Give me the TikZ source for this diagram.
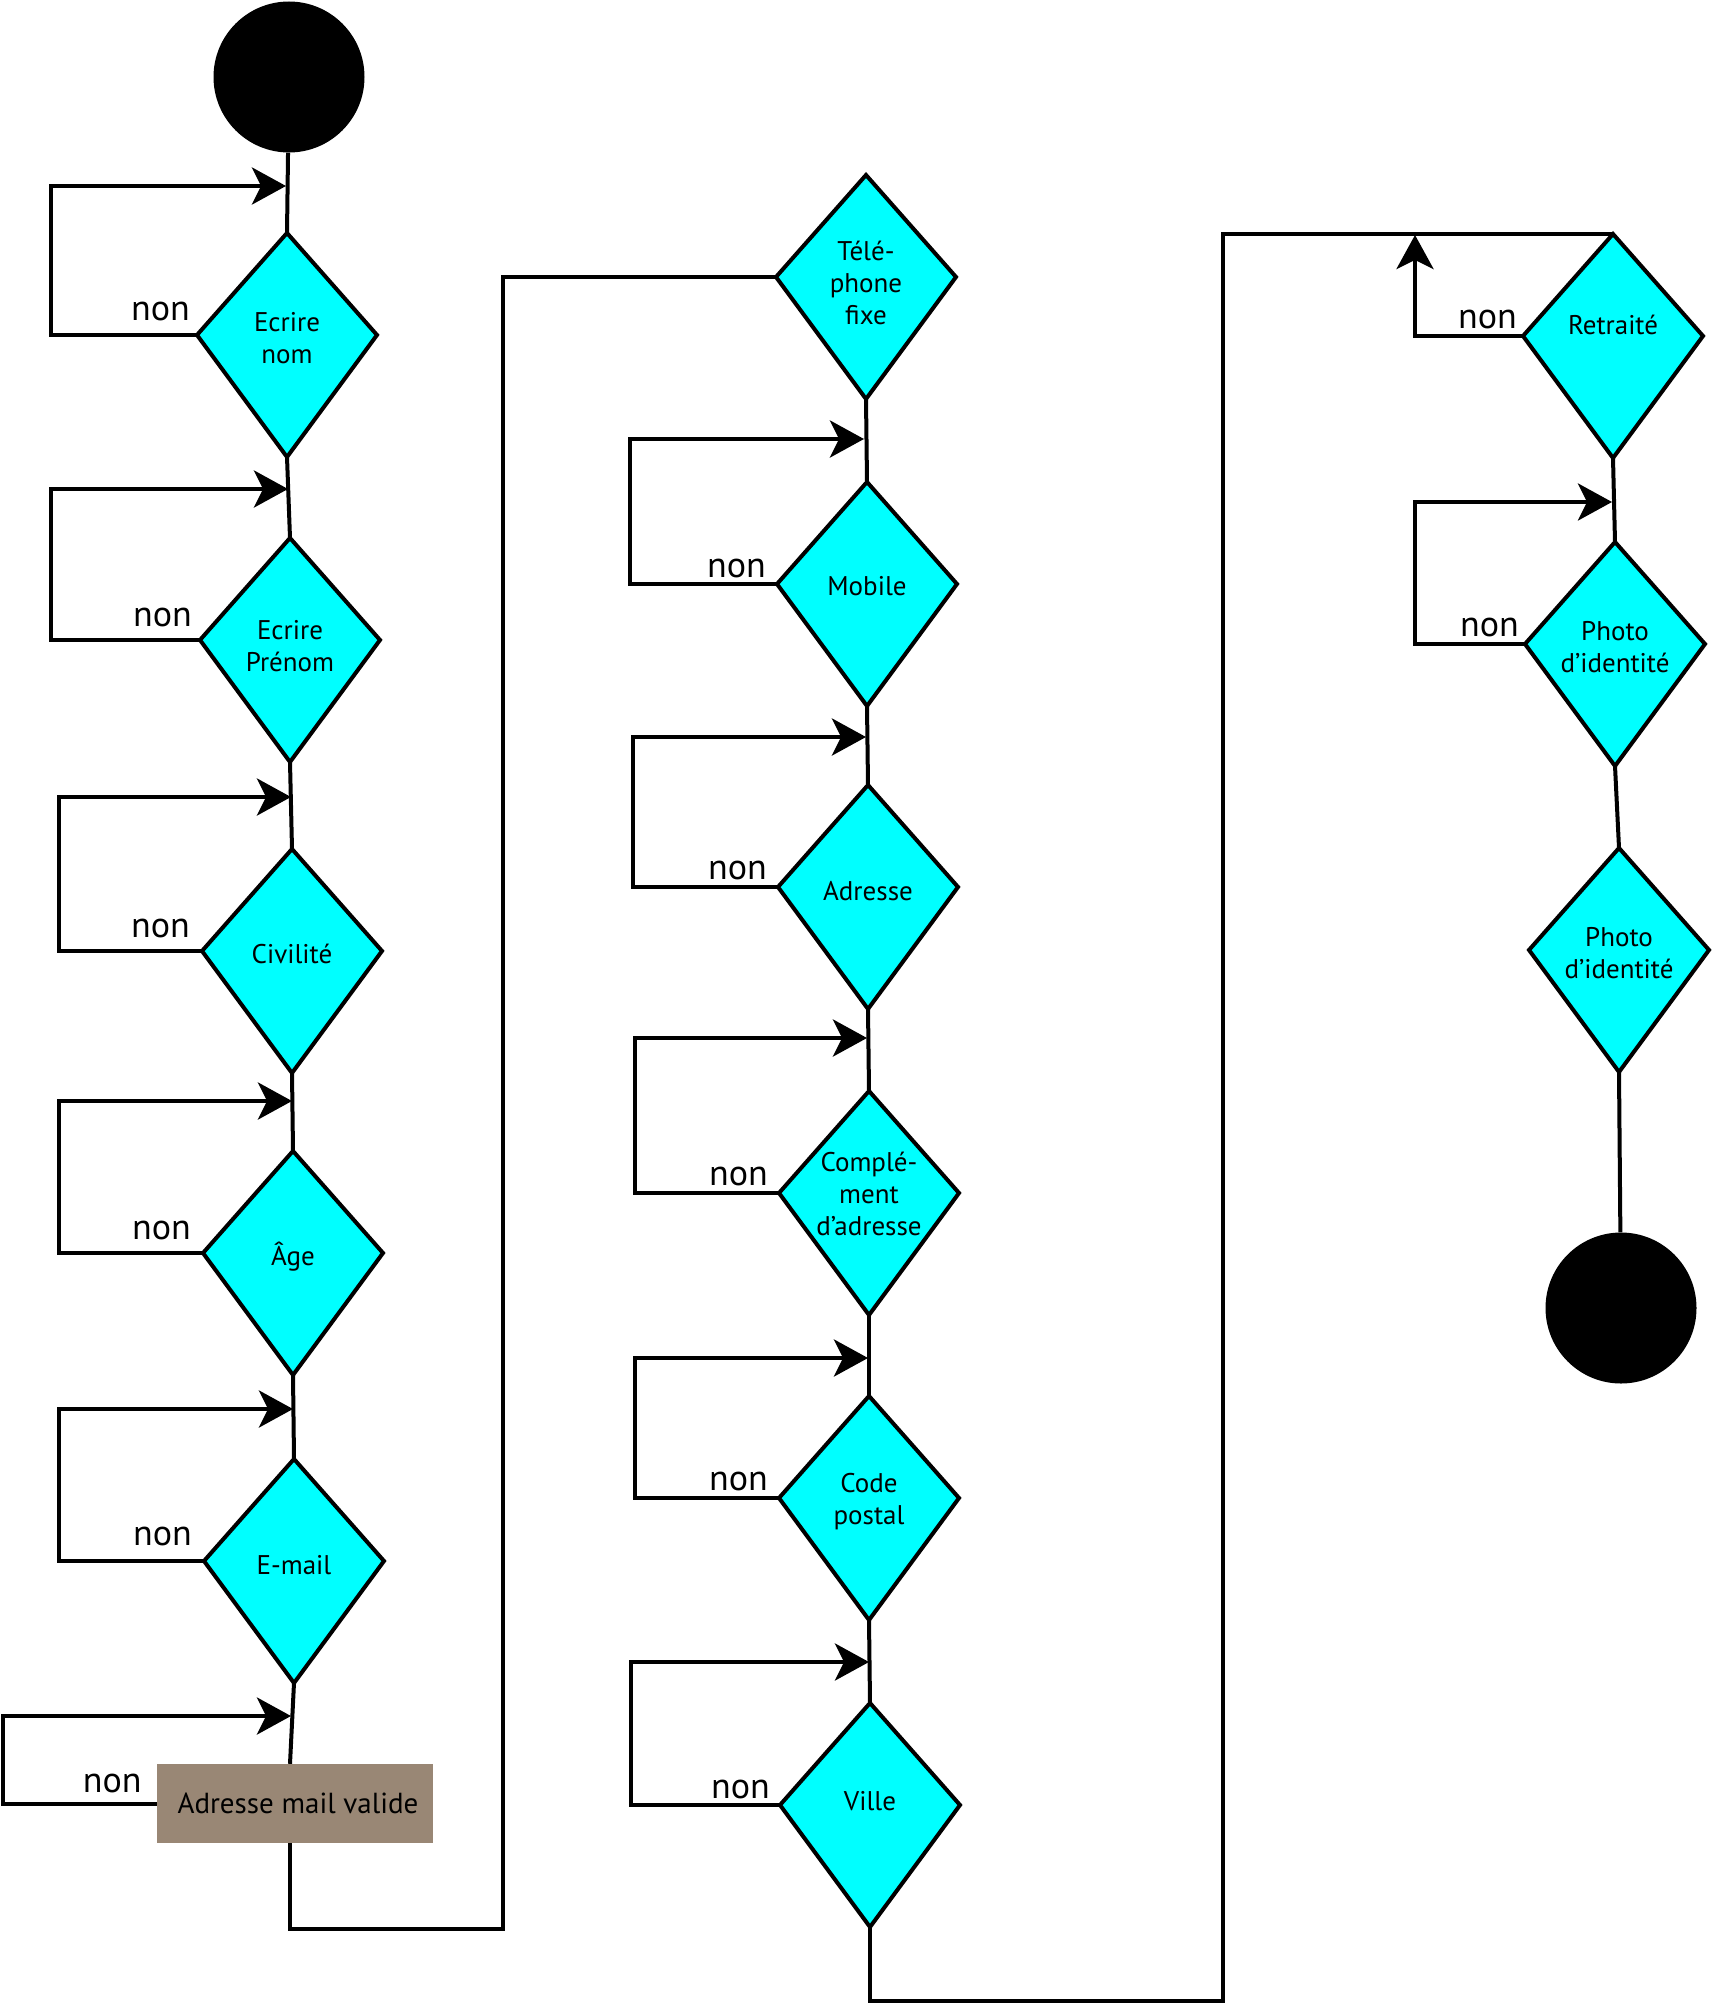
\documentclass[tikz,border=0pt]{standalone}
\usepackage{fontspec}
\setmainfont{PT Sans}
\usetikzlibrary{arrows.meta,calc}
\definecolor{dcyan}{RGB}{0,255,255}
\definecolor{boxc}{RGB}{153,135,117}
\tikzset{
  conn/.style={line width=4pt, line join=miter},
  loopa/.style={conn, -{Stealth[length=34pt,width=37pt,inset=9pt]}},
  dshape/.style={fill=dcyan, draw=black, line width=4pt, line join=miter},
  dtext/.style={align=center, font=\fontsize{27}{32}\selectfont, inner sep=0pt},
  nonlbl/.style={font=\fontsize{36}{40}\selectfont, inner sep=0pt, anchor=base east},
  term/.style={circle, fill=black, minimum size=151pt, inner sep=0pt},
  mailbox/.style={fill=boxc, minimum width=276pt, minimum height=79pt, inner sep=0pt, font=\fontsize{29}{34}\selectfont}
}
\newcommand\dmd[5]{%
  \coordinate (#1-t) at (#2,#3-102);
  \coordinate (#1-l) at (#2-90,#3);
  \coordinate (#1-r) at (#2+90,#3);
  \coordinate (#1-b) at (#2,#3+122);
  \path[dshape] (#1-t) -- (#1-l) -- (#1-b) -- (#1-r) -- cycle;
  \node[dtext] (#1) at (#2,{#3+(#4)}) {#5};
}
\begin{document}
\begin{tikzpicture}[x=1pt,y=-1pt]
\useasboundingbox (0,0) rectangle (1711,2004);
% terminals
\node[term] (S) at (289,77) {};
\node[term] (E) at (1621,1308) {};
% column 1
\dmd{D1}{287}{335}{3}{Ecrire\\nom}
\dmd{D2}{290}{640}{6}{Ecrire\\Prénom}
\dmd{D3}{292}{951}{3}{Civilité}
\dmd{D4}{293}{1253}{4}{Âge}
\dmd{D5}{294}{1561}{4}{E-mail}
\node[mailbox] (B) at (295,1803.5) {\hspace*{6pt}Adresse mail valide};
\coordinate (Bs) at ([xshift=-5pt]B.south);
% column 2
\dmd{T}{866}{277}{6}{Télé-\\phone\\fixe}
\dmd{M}{867}{584}{2}{Mobile}
\dmd{A}{868}{887}{4}{Adresse}
\dmd{C}{869}{1193}{1}{Complé-\\ment\\d’adresse}
\dmd{P}{869}{1498}{4}{Code\\postal}
\dmd{V}{870}{1805}{-4}{Ville}
% column 3
\dmd{R}{1613}{336}{-11}{Retraité}
\dmd{Ph1}{1615}{644}{3}{Photo\\d’identité}
\dmd{Ph2}{1619}{950}{3}{Photo\\d’identité}
% arrow tip coordinates
\coordinate (a1) at (286,186);
\coordinate (a2) at (288,489);
\coordinate (a3) at (291,797);
\coordinate (a4) at (292,1101);
\coordinate (a5) at (293,1409);
\coordinate (a6) at (291,1716);
\coordinate (b1) at (864,439);
\coordinate (b2) at (866,737);
\coordinate (b3) at (867,1038);
\coordinate (b4) at (868,1358);
\coordinate (b5) at (869,1662);
\coordinate (c1) at (1415,235);
\coordinate (c2) at (1612,502);
% main flow
\draw[conn] (S) -- (D1-t);
\draw[conn] (D1-b) -- (D2-t);
\draw[conn] (D2-b) -- (D3-t);
\draw[conn] (D3-b) -- (D4-t);
\draw[conn] (D4-b) -- (D5-t);
\draw[conn] (D5-b) -- (Bs |- B.north);
\draw[conn] (Bs) |- (503,1929) |- (T-l);
\draw[conn] (T-b) -- (M-t);
\draw[conn] (M-b) -- (A-t);
\draw[conn] (A-b) -- (C-t);
\draw[conn] (C-b) -- (P-t);
\draw[conn] (P-b) -- (V-t);
\draw[conn] (V-b) |- (1223,2001) |- (R-t);
\draw[conn] (R-b) -- (Ph1-t);
\draw[conn] (Ph1-b) -- (Ph2-t);
\draw[conn] (Ph2-b) -- (E);
% loops
\draw[loopa] (D1-l) -| (51,186) -- (a1);
\draw[loopa] (D2-l) -| (51,489) -- (a2);
\draw[loopa] (D3-l) -| (59,797) -- (a3);
\draw[loopa] (D4-l) -| (59,1101) -- (a4);
\draw[loopa] (D5-l) -| (59,1409) -- (a5);
\draw[loopa] (B.west) -| (3,1716) -- (a6);
\draw[loopa] (M-l) -| (630,439) -- (b1);
\draw[loopa] (A-l) -| (633,737) -- (b2);
\draw[loopa] (C-l) -| (635,1038) -- (b3);
\draw[loopa] (P-l) -| (635,1358) -- (b4);
\draw[loopa] (V-l) -| (631,1662) -- (b5);
\draw[loopa] (R-l) -| (c1);
\draw[loopa] (Ph1-l) -| (1415,502) -- (c2);
% labels
\node[nonlbl] (n1) at ($(D1-l)+(-7,-15)$) {non};
\node[nonlbl] (n2) at ($(D2-l)+(-8,-14)$) {non};
\node[nonlbl] (n3) at ($(D3-l)+(-12,-14)$) {non};
\node[nonlbl] (n4) at ($(D4-l)+(-12,-14)$) {non};
\node[nonlbl] (n5) at ($(D5-l)+(-12,-16)$) {non};
\node[nonlbl] (n6) at ($(B.west)+(-15,-11)$) {non};
\node[nonlbl] (n7) at ($(M-l)+(-11,-7)$) {non};
\node[nonlbl] (n8) at ($(A-l)+(-11,-8)$) {non};
\node[nonlbl] (n9) at ($(C-l)+(-11,-8)$) {non};
\node[nonlbl] (n10) at ($(P-l)+(-11,-8)$) {non};
\node[nonlbl] (n11) at ($(V-l)+(-10,-7)$) {non};
\node[nonlbl] (n12) at ($(R-l)+(-6,-8)$) {non};
\node[nonlbl] (n13) at ($(Ph1-l)+(-6,-8)$) {non};
\end{tikzpicture}
\end{document}
